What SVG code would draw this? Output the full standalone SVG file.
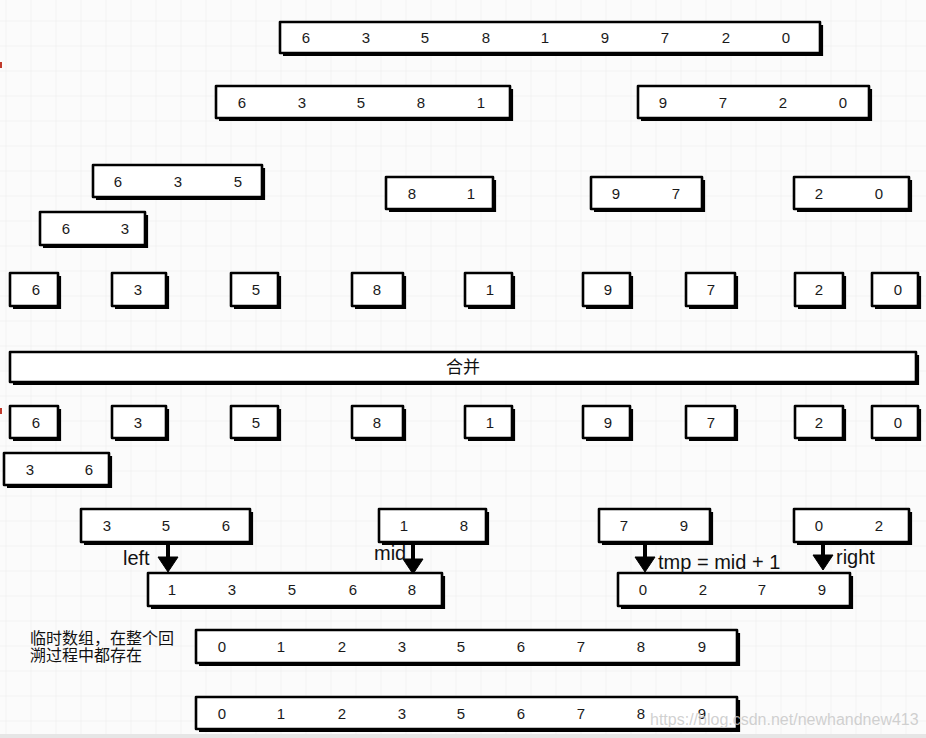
<svg xmlns="http://www.w3.org/2000/svg" width="926" height="738" viewBox="0 0 926 738">
<defs>
<pattern id="grid" x="6.5" y="21.5" width="25" height="25" patternUnits="userSpaceOnUse">
<path d="M25 0 V25 M0 25 H25" fill="none" stroke="#ebebeb" stroke-width="1"/>
</pattern>
</defs>
<style>
.box{fill:#fff;stroke:#000;stroke-width:2.6;stroke-linejoin:round}
.sh{fill:none;stroke:#000;stroke-width:2.2}
.n{font-family:"Liberation Sans",Arial,sans-serif;font-size:15px;fill:#1a1a1a;text-anchor:middle;dominant-baseline:central}
.lbl{font-family:"Liberation Sans",Arial,sans-serif;font-size:20px;fill:#111}
.cn{font-family:"Liberation Sans","Noto Sans CJK SC",sans-serif;font-size:16px;fill:#111}
.wm{font-family:"Liberation Sans",Arial,sans-serif;font-size:16px;fill:#c8c8c8;fill-opacity:0.85}
.arr{stroke:#000;stroke-width:4;fill:none}
.head{fill:#000;stroke:#000;stroke-width:1;stroke-linejoin:round}
</style>
<rect width="926" height="738" fill="#fbfbfb"/>
<rect width="926" height="738" fill="url(#grid)"/>
<rect x="0" y="734" width="926" height="4" fill="#e6e6e6"/>
<rect x="0" y="62" width="2" height="6" fill="#c0392b"/>
<rect x="0" y="408" width="2" height="6" fill="#c0392b"/>

<g id="r1">
<path class="sh" d="M822 25 V55 H283"/>
<rect class="box" x="280" y="22" width="540" height="31"/>
<text class="n" x="306" y="37.5">6</text><text class="n" x="366" y="37.5">3</text><text class="n" x="425" y="37.5">5</text><text class="n" x="486" y="37.5">8</text><text class="n" x="545" y="37.5">1</text><text class="n" x="605" y="37.5">9</text><text class="n" x="665" y="37.5">7</text><text class="n" x="726" y="37.5">2</text><text class="n" x="786" y="37.5">0</text>
</g>

<g id="r2a">
<path class="sh" d="M512 89 V120 H219"/>
<rect class="box" x="216" y="86" width="294" height="32"/>
<text class="n" x="242" y="102">6</text><text class="n" x="302" y="102">3</text><text class="n" x="361" y="102">5</text><text class="n" x="421" y="102">8</text><text class="n" x="481" y="102">1</text>
</g>
<g id="r2b">
<path class="sh" d="M871 89 V120 H641"/>
<rect class="box" x="638" y="86" width="231" height="32"/>
<text class="n" x="663" y="102">9</text><text class="n" x="723" y="102">7</text><text class="n" x="783" y="102">2</text><text class="n" x="843" y="102">0</text>
</g>

<g id="r3a">
<path class="sh" d="M264 168 V199 H96"/>
<rect class="box" x="93" y="165" width="169" height="32"/>
<text class="n" x="118" y="181">6</text><text class="n" x="178" y="181">3</text><text class="n" x="238" y="181">5</text>
</g>
<g id="r3b">
<path class="sh" d="M495 180 V211 H389"/>
<rect class="box" x="386" y="177" width="107" height="32"/>
<text class="n" x="412" y="193">8</text><text class="n" x="471" y="193">1</text>
</g>
<g id="r3c">
<path class="sh" d="M704 180 V211 H594"/>
<rect class="box" x="591" y="177" width="111" height="32"/>
<text class="n" x="616" y="193">9</text><text class="n" x="676" y="193">7</text>
</g>
<g id="r3d">
<path class="sh" d="M911 180 V211 H797"/>
<rect class="box" x="794" y="177" width="115" height="32"/>
<text class="n" x="819" y="193">2</text><text class="n" x="879" y="193">0</text>
</g>
<g id="r3e">
<path class="sh" d="M147 215 V247 H43"/>
<rect class="box" x="40" y="212" width="105" height="33"/>
<text class="n" x="66" y="228.5">6</text><text class="n" x="125" y="228.5">3</text>
</g>

<g id="s1"><path class="sh" d="M60 276 V308 H13"/><rect class="box" x="10" y="273" width="48" height="33"/><text class="n" x="36" y="289.5">6</text></g>
<g id="s2"><path class="sh" d="M168 276 V308 H115"/><rect class="box" x="112" y="273" width="54" height="33"/><text class="n" x="138" y="289.5">3</text></g>
<g id="s3"><path class="sh" d="M280 276 V308 H234"/><rect class="box" x="231" y="273" width="47" height="33"/><text class="n" x="256" y="289.5">5</text></g>
<g id="s4"><path class="sh" d="M405 276 V308 H355"/><rect class="box" x="352" y="273" width="51" height="33"/><text class="n" x="377" y="289.5">8</text></g>
<g id="s5"><path class="sh" d="M514 276 V308 H468"/><rect class="box" x="465" y="273" width="47" height="33"/><text class="n" x="490" y="289.5">1</text></g>
<g id="s6"><path class="sh" d="M632 276 V308 H586"/><rect class="box" x="583" y="273" width="47" height="33"/><text class="n" x="608" y="289.5">9</text></g>
<g id="s7"><path class="sh" d="M737 276 V308 H689"/><rect class="box" x="686" y="273" width="49" height="33"/><text class="n" x="711" y="289.5">7</text></g>
<g id="s8"><path class="sh" d="M845 276 V308 H798"/><rect class="box" x="795" y="273" width="48" height="33"/><text class="n" x="819" y="289.5">2</text></g>
<g id="s9"><path class="sh" d="M920 276 V308 H875"/><rect class="box" x="872" y="273" width="46" height="33"/><text class="n" x="898" y="289.5">0</text></g>

<g id="merge">
<path class="sh" d="M918 355 V384 H13"/>
<rect class="box" x="10" y="352" width="906" height="30"/>
<text class="cn" x="463" y="367" text-anchor="middle" dominant-baseline="central" style="font-size:17px">合并</text>
</g>

<g id="m1"><path class="sh" d="M60 409 V440 H13"/><rect class="box" x="10" y="406" width="48" height="32"/><text class="n" x="36" y="422">6</text></g>
<g id="m2"><path class="sh" d="M168 409 V440 H115"/><rect class="box" x="112" y="406" width="54" height="32"/><text class="n" x="138" y="422">3</text></g>
<g id="m3"><path class="sh" d="M280 409 V440 H234"/><rect class="box" x="231" y="406" width="47" height="32"/><text class="n" x="256" y="422">5</text></g>
<g id="m4"><path class="sh" d="M405 409 V440 H355"/><rect class="box" x="352" y="406" width="51" height="32"/><text class="n" x="377" y="422">8</text></g>
<g id="m5"><path class="sh" d="M514 409 V440 H468"/><rect class="box" x="465" y="406" width="47" height="32"/><text class="n" x="490" y="422">1</text></g>
<g id="m6"><path class="sh" d="M632 409 V440 H586"/><rect class="box" x="583" y="406" width="47" height="32"/><text class="n" x="608" y="422">9</text></g>
<g id="m7"><path class="sh" d="M737 409 V440 H689"/><rect class="box" x="686" y="406" width="49" height="32"/><text class="n" x="711" y="422">7</text></g>
<g id="m8"><path class="sh" d="M845 409 V440 H798"/><rect class="box" x="795" y="406" width="48" height="32"/><text class="n" x="819" y="422">2</text></g>
<g id="m9"><path class="sh" d="M920 409 V440 H875"/><rect class="box" x="872" y="406" width="46" height="32"/><text class="n" x="898" y="422">0</text></g>

<g id="p36"><path class="sh" d="M111 456 V487 H7"/><rect class="box" x="4" y="453" width="105" height="32"/><text class="n" x="30" y="469">3</text><text class="n" x="89" y="469">6</text></g>

<g id="q1"><path class="sh" d="M252 512 V544 H84"/><rect class="box" x="81" y="509" width="169" height="33"/><text class="n" x="107" y="525.5">3</text><text class="n" x="166" y="525.5">5</text><text class="n" x="226" y="525.5">6</text></g>
<g id="q2"><path class="sh" d="M488 512 V544 H382"/><rect class="box" x="379" y="509" width="107" height="33"/><text class="n" x="404" y="525.5">1</text><text class="n" x="464" y="525.5">8</text></g>
<g id="q3"><path class="sh" d="M712 512 V544 H602"/><rect class="box" x="599" y="509" width="111" height="33"/><text class="n" x="624" y="525.5">7</text><text class="n" x="684" y="525.5">9</text></g>
<g id="q4"><path class="sh" d="M911 512 V544 H797"/><rect class="box" x="794" y="509" width="115" height="33"/><text class="n" x="819" y="525.5">0</text><text class="n" x="879" y="525.5">2</text></g>

<g id="t1"><path class="sh" d="M444 576 V608 H151"/><rect class="box" x="148" y="573" width="294" height="33"/><text class="n" x="172" y="589.5">1</text><text class="n" x="232" y="589.5">3</text><text class="n" x="292" y="589.5">5</text><text class="n" x="353" y="589.5">6</text><text class="n" x="412" y="589.5">8</text></g>
<g id="t2"><path class="sh" d="M852 576 V608 H621"/><rect class="box" x="618" y="573" width="232" height="33"/><text class="n" x="643" y="589.5">0</text><text class="n" x="703" y="589.5">2</text><text class="n" x="762" y="589.5">7</text><text class="n" x="822" y="589.5">9</text></g>

<g id="note">
<text class="cn" x="30" y="644">临时数组，在整个回</text>
<text class="cn" x="30" y="661">溯过程中都存在</text>
</g>

<g id="tmp1"><path class="sh" d="M739 633 V665 H199"/><rect class="box" x="196" y="630" width="541" height="33"/><text class="n" x="222" y="646.5">0</text><text class="n" x="281" y="646.5">1</text><text class="n" x="342" y="646.5">2</text><text class="n" x="402" y="646.5">3</text><text class="n" x="461" y="646.5">5</text><text class="n" x="521" y="646.5">6</text><text class="n" x="581" y="646.5">7</text><text class="n" x="641" y="646.5">8</text><text class="n" x="702" y="646.5">9</text></g>
<g id="tmp2"><path class="sh" d="M739 700 V731 H199"/><rect class="box" x="196" y="697" width="541" height="32"/><text class="n" x="222" y="713">0</text><text class="n" x="281" y="713">1</text><text class="n" x="342" y="713">2</text><text class="n" x="402" y="713">3</text><text class="n" x="461" y="713">5</text><text class="n" x="521" y="713">6</text><text class="n" x="581" y="713">7</text><text class="n" x="641" y="713">8</text><text class="n" x="702" y="713">9</text></g>

<g id="connectors">
<path class="arr" d="M168 543 V560"/><path class="head" d="M158 557 L178 557 L168 572 Z"/>
<path class="arr" d="M413 543 V562"/><path class="head" d="M403 559 L423 559 L413 574 Z"/>
<path class="arr" d="M645 543 V560"/><path class="head" d="M635 557 L655 557 L645 572 Z"/>
<path class="arr" d="M823 543 V558"/><path class="head" d="M813 555 L833 555 L823 570 Z"/>
<text class="lbl" x="123" y="565">left</text>
<text class="lbl" x="374" y="560">mid</text>
<text class="lbl" x="658" y="569">tmp = mid + 1</text>
<text class="lbl" x="836" y="564">right</text>
</g>

<text class="wm" x="650" y="725">https://blog.csdn.net/newhandnew413</text>
</svg>
